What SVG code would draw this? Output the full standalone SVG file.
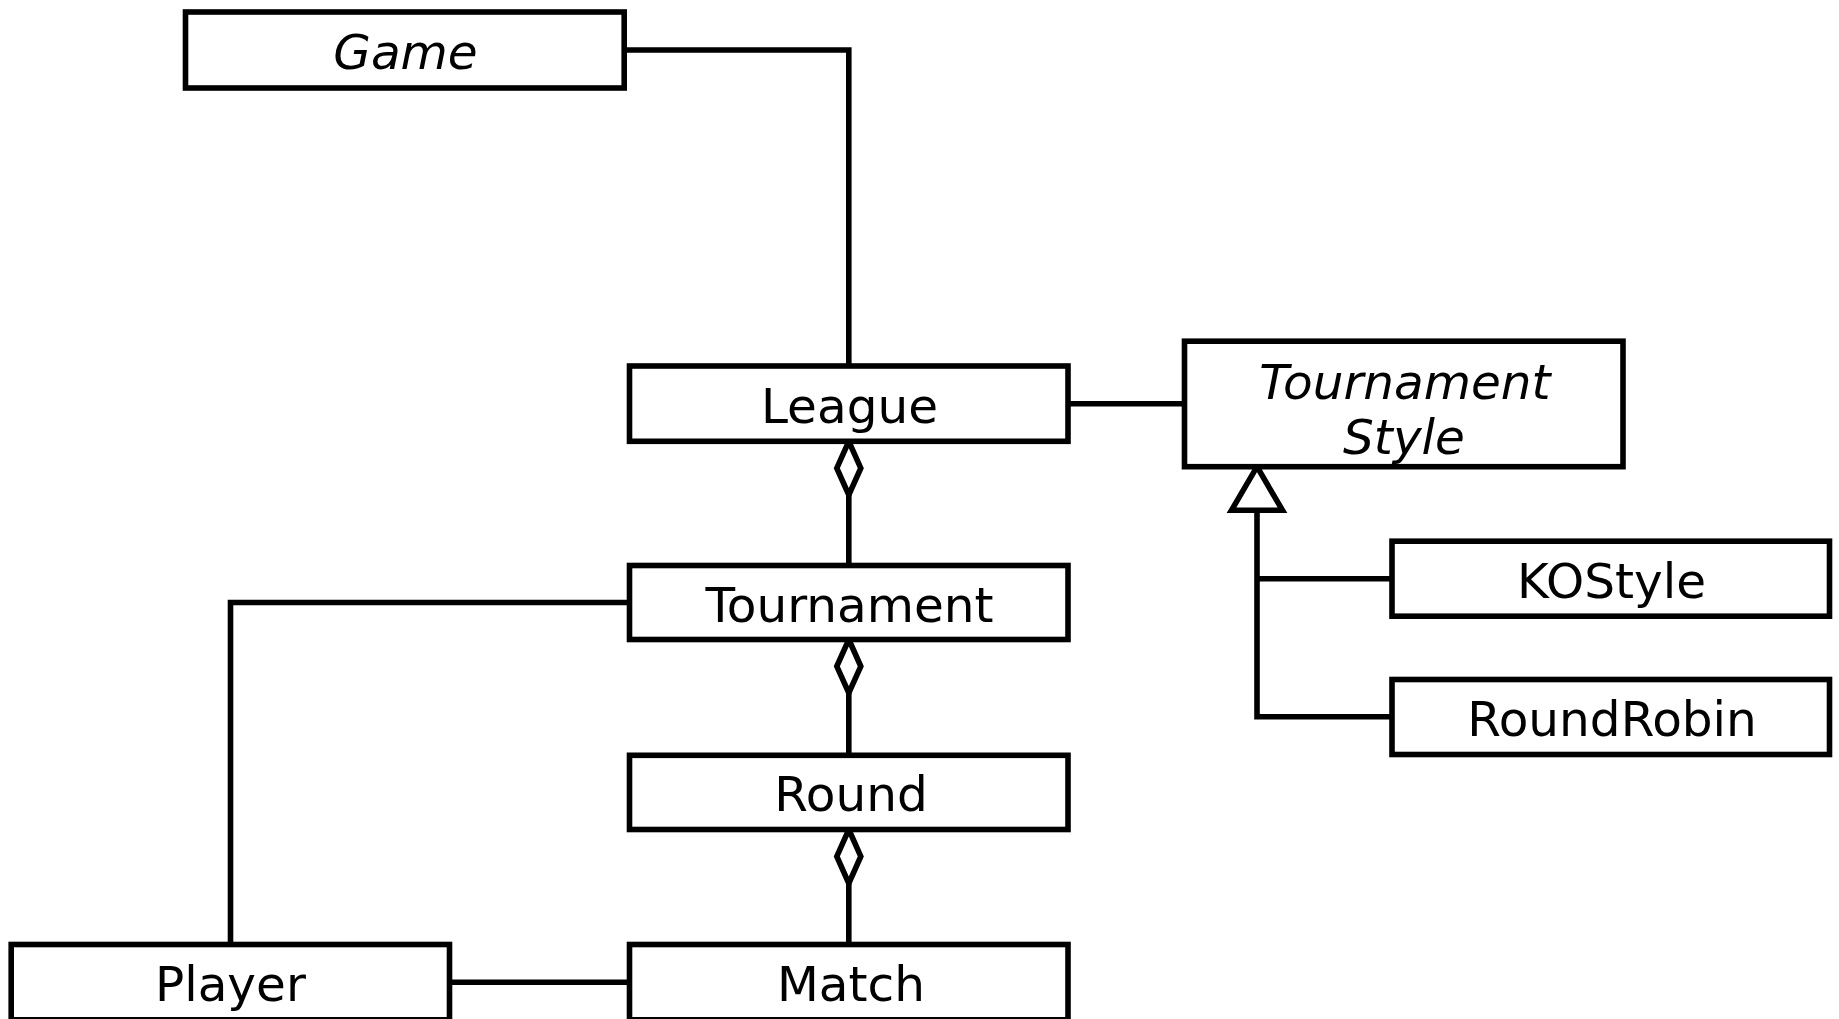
<svg xmlns="http://www.w3.org/2000/svg" width="1839" height="1019" viewBox="0 0 1839 1019">
<style>
.box{fill:#fff;stroke:#000;stroke-width:5.6}
.lbl{font-family:"DejaVu Sans","Liberation Sans",sans-serif;font-size:48.5px;fill:#000;text-anchor:middle}
.it{font-style:italic}
.con{fill:none;stroke:#000;stroke-width:5.6}
.head{fill:#fff;stroke:#000;stroke-width:5.6;stroke-linejoin:miter}
</style>
<rect width="1839" height="1019" fill="#fff"/>
<g id="connectors">
<path class="con" d="M624.2 50 H848.8 V366"/>
<path class="con" d="M1068 403.7 H1184.5"/>
<path class="con" d="M848.8 495 V565.5"/>
<path class="head" d="M848.8 441.3 L860.8 468.2 L848.8 495 L836.8 468.2 Z"/>
<path class="con" d="M848.8 693 V755.3"/>
<path class="head" d="M848.8 639.5 L860.8 666.3 L848.8 693 L836.8 666.3 Z"/>
<path class="con" d="M848.8 883.3 V944.5"/>
<path class="head" d="M848.8 829.5 L860.8 856.4 L848.8 883.3 L836.8 856.4 Z"/>
<path class="con" d="M629.5 602.5 H230.5 V944.5"/>
<path class="con" d="M449.5 982.2 H629.5"/>
<path class="con" d="M1257 510.3 V716.8 H1392"/>
<path class="con" d="M1257 578.7 H1392"/>
<path class="head" d="M1257 466.7 L1282.5 510.3 L1231.5 510.3 Z"/>
</g>
<g id="game"><rect class="box" x="185.5" y="12" width="438.7" height="76"/><text class="lbl it" x="405.5" y="68.5">Game</text></g>
<g id="league"><rect class="box" x="629.5" y="366" width="438.5" height="75.3"/><text class="lbl" x="849.5" y="423">League</text></g>
<g id="tournament-style"><rect class="box" x="1184.5" y="341.2" width="438.5" height="125.5"/><text class="lbl it" x="1405" y="398.5">Tournament</text><text class="lbl it" x="1404" y="453.5">Style</text></g>
<g id="tournament"><rect class="box" x="629.5" y="565.5" width="438.5" height="74"/><text class="lbl" x="849.5" y="621.5">Tournament</text></g>
<g id="round"><rect class="box" x="629.5" y="755.3" width="438.5" height="74.2"/><text class="lbl" x="851" y="811">Round</text></g>
<g id="match"><rect class="box" x="629.5" y="944.5" width="438.5" height="75.3"/><text class="lbl" x="851" y="1001">Match</text></g>
<g id="player"><rect class="box" x="11.2" y="944.5" width="438.3" height="75.3"/><text class="lbl" x="230.4" y="1001">Player</text></g>
<g id="kostyle"><rect class="box" x="1392" y="541.2" width="437.5" height="75"/><text class="lbl" x="1611.5" y="597.5">KOStyle</text></g>
<g id="roundrobin"><rect class="box" x="1392" y="679.5" width="437.5" height="75"/><text class="lbl" x="1612" y="736">RoundRobin</text></g>
</svg>
